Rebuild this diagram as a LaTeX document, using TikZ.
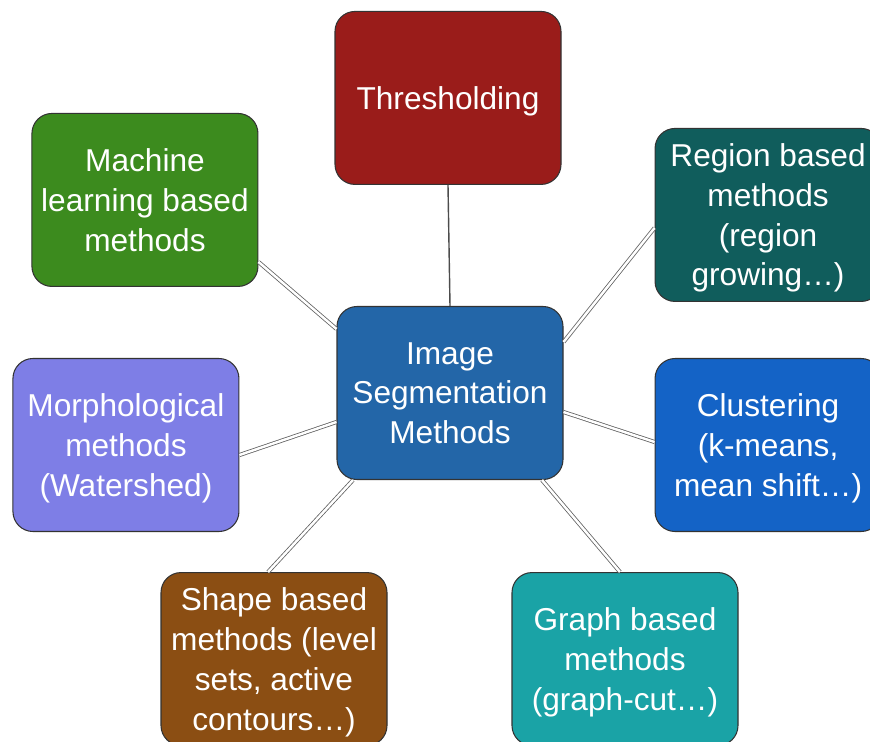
\documentclass[tikz,border=0pt]{standalone}
\usepackage{fontspec}
\setmainfont{Liberation Sans}
\usetikzlibrary{positioning}
\definecolor{thrred}{HTML}{9A1C1A}
\definecolor{mlgreen}{HTML}{3C8B1E}
\definecolor{regteal}{HTML}{105D5C}
\definecolor{ctrblue}{HTML}{2366A8}
\definecolor{morphblue}{HTML}{7E7EE6}
\definecolor{clublue}{HTML}{1463C6}
\definecolor{shapebrown}{HTML}{8B4E13}
\definecolor{graphteal}{HTML}{1AA3A6}
\begin{document}
\begin{tikzpicture}[node distance=2cm, auto,
  box/.style={draw=black!80, line width=0.6pt, rounded corners=0.4cm, minimum width=4.52cm, minimum height=3.46cm, align=center, text=white, inner sep=2pt, text depth=-3pt, font=\fontsize{18}{22.6}\selectfont},
  link/.style={draw=gray!75!black, double=white, double distance=1.4pt, line width=0.45pt}]
\useasboundingbox (0,0) rectangle (17.4,-14.84);
\node  (ctr)[box, fill=ctrblue] at (9.0,-7.86) {Image\\Segmentation\\Methods};
\node  (thr)[box, fill=thrred] [above=2.42cm of ctr, xshift=-0.04cm] {Thresholding};
\node  (ml)[box, fill=mlgreen] [above left=0.38cm and 1.56cm of ctr] {Machine\\learning based\\methods};
\node  (reg)[box, fill=regteal] [above right=0.08cm and 1.82cm of ctr] {Region based\\methods\\(region\\growing\dots)};
\node  (morph)[box, fill=morphblue] [left=1.94cm of ctr, yshift=-1.04cm] {Morphological\\methods\\(Watershed)};
\node  (clu)[box, fill=clublue] [right=1.82cm of ctr, yshift=-1.04cm] {Clustering\\(k-means,\\mean shift\dots)};
\node  (shape)[box, fill=shapebrown] [below=1.84cm of ctr, xshift=-3.52cm] {Shape based\\methods (level\\sets, active\\contours\dots)};
\node  (graph)[box, fill=graphteal] [below=1.84cm of ctr, xshift=3.5cm] {Graph based\\methods\\(graph-cut\dots)};
\path   (thr.south) edge[draw=gray!60!black, line width=0.8pt] (ctr.north)
        ([yshift=-1.24cm]ml.east) edge[link] ([yshift=1.28cm]ctr.west)
        ([yshift=1.02cm]ctr.east) edge[link] ([yshift=-0.26cm]reg.west)
        ([yshift=-0.38cm]ctr.east) edge[link] ([yshift=0.06cm]clu.west)
        ([yshift=-0.2cm]morph.east) edge[link] ([yshift=-0.58cm]ctr.west)
        ([xshift=-1.94cm]ctr.south) edge[link] ([xshift=-0.12cm]shape.north)
        ([xshift=1.84cm]ctr.south) edge[link] ([xshift=-0.1cm]graph.north);
\end{tikzpicture}
\end{document}
